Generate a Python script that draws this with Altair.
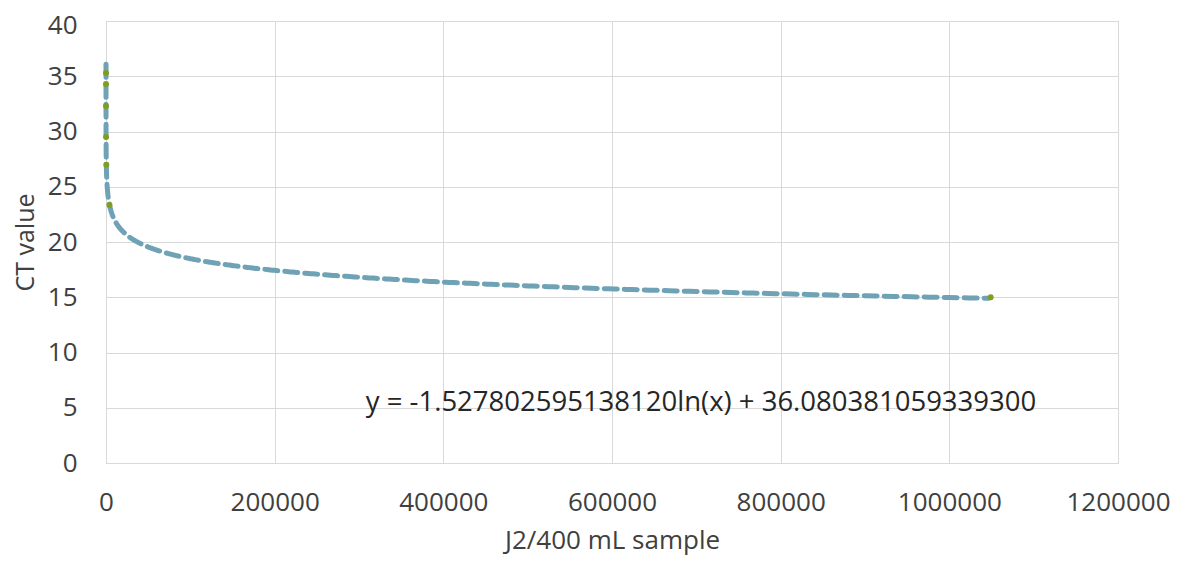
import altair as alt
import pandas as pd

x_vals = [1, 3, 12, 74, 380, 4150, 1049000]
ct_vals = [35.3, 34.3, 32.3, 29.5, 27.0, 23.35, 15.0]

# Logarithmic trendline coefficients (as printed on the chart)
slope = -1.527802595138120
intercept = 36.080381059339300
equation = "y = -1.527802595138120ln(x) + 36.080381059339300"

x_ticks = [0, 200000, 400000, 600000, 800000, 1000000, 1200000]
y_ticks = [0, 5, 10, 15, 20, 25, 30, 35, 40]

FONT = "Open Sans"
pts = pd.DataFrame({"x": x_vals, "ct": ct_vals})

xscale = alt.Scale(domain=[0, 1200000], nice=False)
yscale = alt.Scale(domain=[0, 40], nice=False)

xaxis = alt.Axis(values=x_ticks, format="d", title="J2/400 mL sample", grid=True,
                 gridColor="#d9d9d9", domainColor="#d9d9d9", ticks=False,
                 labelFlush=False,
                 labelFont=FONT, labelFontSize=26, labelColor="#404040",
                 labelPadding=26, titleFont=FONT, titleFontSize=26,
                 titleFontWeight="normal", titleColor="#404040", titlePadding=12)
yaxis = alt.Axis(values=y_ticks, title="CT value", grid=True,
                 gridColor="#d9d9d9", domainColor="#d9d9d9", ticks=False,
                 labelFlush=False, labelOffset={"expr": "datum.value == 40 ? 4 : 0"},
                 labelFont=FONT, labelFontSize=26, labelColor="#404040",
                 labelPadding=29, titleFont=FONT, titleFontSize=25,
                 titleFontWeight="normal", titleColor="#404040", titlePadding=9)

trend = (
    alt.Chart(alt.sequence(0, 6.0215, 0.005, as_="e"))
    .transform_calculate(x="pow(10, datum.e)")
    .transform_calculate(ct=f"{slope} * log(datum.x) + {intercept}")
    .mark_line(color="#6ea2b4", strokeWidth=5, strokeDash=[13, 7], strokeCap="round")
    .encode(x=alt.X("x:Q", scale=xscale, axis=xaxis),
            y=alt.Y("ct:Q", scale=yscale, axis=yaxis))
)

points = (
    alt.Chart(pts)
    .mark_circle(color="#7f9e1e", size=36, opacity=1)
    .encode(x=alt.X("x:Q", scale=xscale), y=alt.Y("ct:Q", scale=yscale))
)

label = (
    alt.Chart(pd.DataFrame({"t": [equation]}))
    .mark_text(font=FONT, fontSize=27.5, color="#262626", align="center", baseline="middle")
    .encode(text="t:N", x=alt.value(595), y=alt.value(382))
)

chart = (
    alt.layer(trend, points, label)
    .properties(width=1012, height=442, autosize="none",
                padding={"left": 98, "top": 13, "right": 61, "bottom": 93})
    .configure_view(stroke=None)
    .configure(background="white")
)

chart.save("out.html", embed_options={"renderer": "svg", "actions": False})
